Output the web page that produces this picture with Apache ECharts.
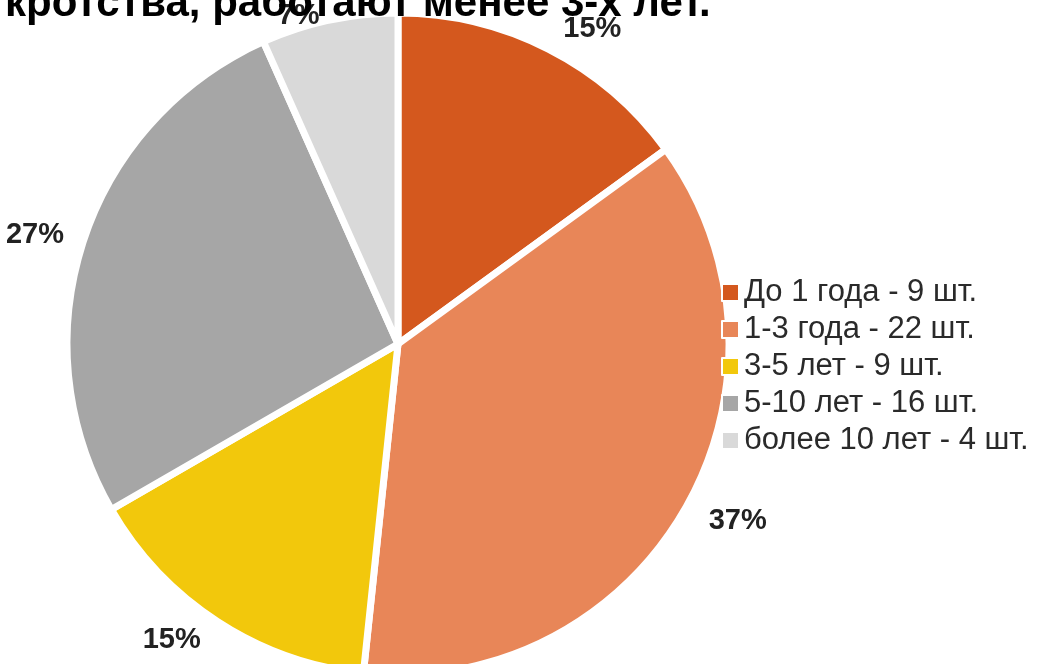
<!DOCTYPE html>
<html>
<head>
<meta charset="utf-8">
<script src="https://cdn.jsdelivr.net/npm/echarts@6/dist/echarts.min.js"></script>
<style>
  html, body { margin: 0; padding: 0; background: #fff; }
  #chart { width: 1043px; height: 664px; }
</style>
</head>
<body>
<div id="chart"></div>
<script>
// данные по стажу
let categories = ['До 1 года - 9 шт.', '1-3 года - 22 шт.', '3-5 лет - 9 шт.', '5-10 лет - 16 шт.', 'более 10 лет - 4 шт.']
let counts = [9, 22, 9, 16, 4]
let colors = ['#d4581e', '#e88658', '#f2c80c', '#a6a6a6', '#d9d9d9']
let titleText = 'кротства, работают менее 3-х лет.'

let pieData = []
for (let i = 0; i < categories.length; i++) {
  pieData.push({ value: counts[i], name: categories[i], itemStyle: { color: colors[i] } })
}

let myEcharts = echarts.init(document.getElementById('chart'))
let option = {
  animation: false,
  title: {
    text: titleText,
    left: 0,
    top: -22,
    textStyle: {
      fontFamily: 'Liberation Sans, Arial, sans-serif',
      fontSize: 42,
      fontWeight: 'bold',
      color: '#000'
    }
  },
  legend: {
    orient: 'vertical',
    left: 721,
    top: 277,
    padding: 0,
    icon: 'rect',
    itemWidth: 17,
    itemHeight: 17,
    itemGap: 6,
    textStyle: {
      fontFamily: 'Liberation Sans, Arial, sans-serif',
      fontSize: 31,
      color: '#2a2a2a'
    },
    data: categories
  },
  series: [
    {
      type: 'pie',
      center: [398, 344],
      radius: [0, 331],
      startAngle: 90,
      clockwise: true,
      z: 1,
      itemStyle: {
        borderColor: '#fff',
        borderWidth: 7
      },
      label: {
        show: true,
        position: 'outside',
        overflow: 'none',
        edgeDistance: 0,
        formatter: function (p) {
          return Math.round(p.percent) + '%'
        },
        fontFamily: 'Liberation Sans, Arial, sans-serif',
        fontSize: 29,
        fontWeight: 'bold',
        color: '#222'
      },
      labelLine: {
        show: false,
        length: 22,
        length2: 0
      },
      data: pieData
    }
  ]
}
myEcharts.setOption(option)
</script>
</body>
</html>
